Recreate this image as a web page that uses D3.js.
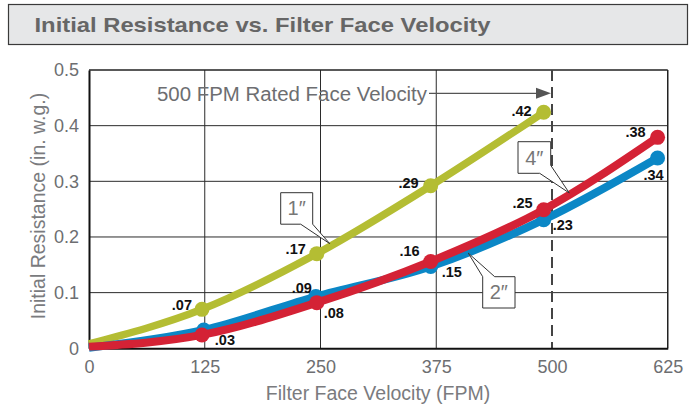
<!DOCTYPE html>
<html><head><meta charset="utf-8">
<script src="https://cdn.jsdelivr.net/npm/d3@7"></script>
<style>
html,body{margin:0;padding:0;background:#fff;}
svg{display:block;font-family:"Liberation Sans",Arial,sans-serif;}
</style></head>
<body>
<svg id="chart" width="692" height="405"></svg>
<script>
// ---- data ----
const xTicks = [0, 125, 250, 375, 500, 625];
const yTicks = [0, 0.1, 0.2, 0.3, 0.4, 0.5];
const ratedVelocity = 500;

const oneInchX   = [0, 122, 246, 369, 491];
const oneInchY   = [0.008, 0.070, 0.170, 0.292, 0.424];
const oneInchLbl = [null, ".07", ".17", ".29", ".42"];

const twoInchX   = [0, 124, 245, 369, 491, 614];
const twoInchY   = [0.001, 0.033, 0.093, 0.147, 0.231, 0.342];
const twoInchLbl = [null, ".03", ".09", ".15", ".23", ".34"];

const fourInchX   = [0, 122, 246, 369, 491, 614];
const fourInchY   = [0.003, 0.024, 0.082, 0.156, 0.249, 0.379];
const fourInchLbl = [null, null, ".08", ".16", ".25", ".38"];

// ---- label placement (px offsets, not data) ----
const oneInchPlace  = [null, [-10,1,"end"], [-11,0,"end"], [-12,2,"end"], [-12,4,"end"]];
const twoInchPlace  = [null, [11,15,"start"], [-4,-4,"end"], [11,11,"start"], [9,10,"start"], [6,22,"end"]];
const fourInchPlace = [null, null, [7,15,"start"], [-11,-5,"end"], [-11,-2,"end"], [-12,0,"end"]];

const svg = d3.select("#chart");
const x = d3.scaleLinear().domain([0, 625]).range([89, 667.75]);
const y = d3.scaleLinear().domain([0, 0.5]).range([348.3, 70]);
const textGray = "#6d6e71";

// ---- title ----
svg.append("rect").attr("x", 8.5).attr("y", 4.5).attr("width", 679).attr("height", 40)
  .attr("fill", "#e6e7e8").attr("stroke", "#3a3a3a").attr("stroke-width", 1.2);
svg.append("text").attr("x", 34.5).attr("y", 31.5)
  .attr("font-size", 21).attr("font-weight", "bold").attr("fill", "#666")
  .attr("textLength", 456).attr("lengthAdjust", "spacingAndGlyphs")
  .text("Initial Resistance vs. Filter Face Velocity");

// ---- grid ----
const grid = svg.append("g");
grid.selectAll("line.h").data(yTicks.filter(d => d > 0 && d < 0.5)).join("line")
  .attr("x1", x(0)).attr("x2", x(625)).attr("y1", d => y(d)).attr("y2", d => y(d))
  .attr("stroke", "#2b2b2b").attr("stroke-width", 1);
grid.selectAll("line.v").data(xTicks.filter(d => d > 0 && d < 625 && d !== ratedVelocity)).join("line")
  .attr("y1", y(0)).attr("y2", y(0.5)).attr("x1", d => x(d)).attr("x2", d => x(d))
  .attr("stroke", "#2b2b2b").attr("stroke-width", 1);
// frame
svg.append("line").attr("x1", x(0)).attr("x2", x(625)).attr("y1", y(0.5)).attr("y2", y(0.5))
  .attr("stroke", "#222").attr("stroke-width", 1.5);
svg.append("line").attr("x1", x(625)).attr("x2", x(625)).attr("y1", y(0.5)).attr("y2", y(0))
  .attr("stroke", "#222").attr("stroke-width", 1.5);
// rated velocity dashed
svg.append("line").attr("x1", x(ratedVelocity)).attr("x2", x(ratedVelocity))
  .attr("y1", y(0.5)).attr("y2", y(0))
  .attr("stroke", "#444").attr("stroke-width", 2).attr("stroke-dasharray", "11,6");

// ---- axes ----
const yAxis = d3.axisLeft(y).tickValues(yTicks).tickSize(0).tickPadding(10)
  .tickFormat(d => d === 0 ? "0" : d3.format(".1f")(d));
const gy = svg.append("g").attr("transform", `translate(${x(0)},0)`).call(yAxis);
gy.select(".domain").attr("stroke", "#111").attr("stroke-width", 2);
gy.selectAll("text").attr("font-size", 18).attr("fill", textGray)
  .attr("font-family", "'Liberation Sans',Arial,sans-serif");

const xAxis = d3.axisBottom(x).tickValues(xTicks).tickSize(0).tickPadding(12);
const gx = svg.append("g").attr("transform", `translate(0,${y(0)})`).call(xAxis);
gx.select(".domain").attr("stroke", "#111").attr("stroke-width", 2);
gx.selectAll("text").attr("font-size", 18).attr("fill", textGray)
  .attr("font-family", "'Liberation Sans',Arial,sans-serif");

svg.append("text").attr("x", 378).attr("y", 399.5).attr("text-anchor", "middle")
  .attr("font-size", 19.5).attr("fill", "#7a7b7e").text("Filter Face Velocity (FPM)");
svg.append("text").attr("transform", "translate(44.5,206) rotate(-90)").attr("text-anchor", "middle")
  .attr("font-size", 19.5).attr("fill", "#7a7b7e").text("Initial Resistance (in. w.g.)");

// ---- rated velocity annotation ----
svg.append("text").attr("x", 157).attr("y", 100.7).attr("font-size", 20).attr("fill", textGray)
  .attr("textLength", 270).attr("lengthAdjust", "spacingAndGlyphs")
  .text("500 FPM Rated Face Velocity");
svg.append("line").attr("x1", 429).attr("x2", x(ratedVelocity) - 12).attr("y1", 93.3).attr("y2", 93.3)
  .attr("stroke", "#555").attr("stroke-width", 1.3);
svg.append("path")
  .attr("d", `M${x(ratedVelocity)-1},93.3 L${x(ratedVelocity)-16},87.8 L${x(ratedVelocity)-16},98.8 Z`)
  .attr("fill", "#555");

// ---- series ----
const series = [
  {name: "1″", xs: oneInchX, ys: oneInchY, lbl: oneInchLbl, place: oneInchPlace, color: "#b4bd33", w: 7.5},
  {name: "2″", xs: twoInchX, ys: twoInchY, lbl: twoInchLbl, place: twoInchPlace, color: "#0b87c6", w: 8},
  {name: "4″", xs: fourInchX, ys: fourInchY, lbl: fourInchLbl, place: fourInchPlace, color: "#d42235", w: 8}
];
const line = d3.line().x(d => x(d[0])).y(d => y(d[1])).curve(d3.curveMonotoneX);

series.forEach(s => {
  const pts = s.xs.map((v, i) => [v, s.ys[i]]);
  const g = svg.append("g");
  g.append("path").datum(pts).attr("d", line).attr("fill", "none")
    .attr("stroke", s.color).attr("stroke-width", s.w).attr("stroke-linecap", "butt");
  g.selectAll("circle").data(pts.slice(1)).join("circle")
    .attr("cx", d => x(d[0])).attr("cy", d => y(d[1])).attr("r", 7.5).attr("fill", s.color);
});

// callouts: tip anchored in data coords, box in px
const callouts = [
  {text: "1″", tip: [260, 0.188], box: [280.7, 192.7, 32, 31.5], tail: "bottom"},
  {text: "4″", tip: [518.7, 0.279], box: [518, 141.7, 32.7, 31.6], tail: "bottomright"},
  {text: "2″", tip: [409.6, 0.171], box: [482.7, 276.7, 32.3, 31.3], tail: "top"}
];
callouts.forEach(c => {
  const tx = x(c.tip[0]), ty = y(c.tip[1]);
  const [bx, by, bw, bh] = c.box;
  let d;
  if (c.tail === "bottom") {
    d = `M${bx},${by} H${bx+bw} V${by+bh} L${tx},${ty} L${bx+bw-12},${by+bh} H${bx} Z`;
  } else if (c.tail === "bottomright") {
    d = `M${bx},${by} H${bx+bw} V${by+bh-8} L${tx},${ty} L${bx+bw-11},${by+bh} H${bx} Z`;
  } else {
    d = `M${bx},${by} L${tx},${ty} L${bx+12},${by} H${bx+bw} V${by+bh} H${bx} Z`;
  }
  svg.append("path").attr("d", d).attr("fill", "#fff").attr("stroke", "#333").attr("stroke-width", 1);
  svg.append("text").attr("x", bx + bw / 2).attr("y", by + bh / 2 + 7).attr("text-anchor", "middle")
    .attr("font-size", 20).attr("fill", "#777").text(c.text);
});

// ---- value labels ----
series.forEach(s => {
  s.xs.forEach((v, i) => {
    if (!s.lbl[i]) return;
    const p = s.place[i];
    svg.append("text").attr("x", x(v) + p[0]).attr("y", y(s.ys[i]) + p[1])
      .attr("text-anchor", p[2]).attr("font-size", 14.5).attr("font-weight", "bold")
      .attr("fill", "#111").text(s.lbl[i]);
  });
});
</script>
</body></html>
